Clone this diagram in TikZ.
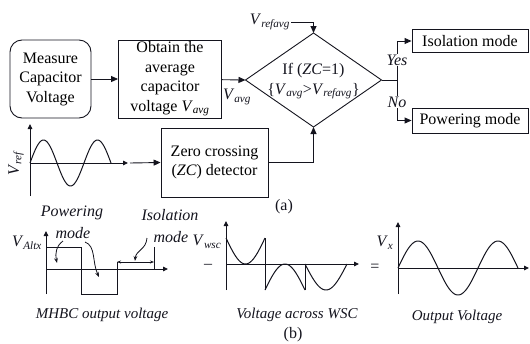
\documentclass[tikz,border=0pt]{standalone}
\usepackage{fontspec}
\setmainfont{Liberation Serif}
\usetikzlibrary{arrows.meta,positioning}
\definecolor{inkc}{RGB}{20,20,30}
\newcommand{\Vs}[1]{\textit{V}\textsubscript{\textit{#1}}}
\tikzset{
  blk/.style={draw=inkc, line width=0.9pt, inner sep=1pt, align=center,
              font=\fontsize{16}{19.5}\selectfont},
  decl/.style={draw=inkc, line width=0.9pt, line join=miter},
  flowarr/.style={-{Triangle[length=7pt,width=6pt]}, inkc, line width=0.9pt},
  axarr/.style={-{Triangle[length=5pt,width=4.5pt]}, inkc, line width=0.9pt},
  crv/.style={inkc, line width=1pt},
  capt/.style={font=\fontsize{15}{17}\selectfont\itshape, text=inkc},
  mlab/.style={font=\fontsize{16}{18}\selectfont\itshape, text=inkc, inner sep=1pt},
  lbl/.style={font=\fontsize{16}{18}\selectfont, text=inkc, inner sep=1pt},
  swarr/.style={-{Stealth[length=5pt]}, inkc, line width=0.8pt},
}
\begin{document}
\begin{tikzpicture}[x=1pt, y=-1pt]
  \useasboundingbox (0,0) rectangle (530,343);
  % (a) control flow
  \node[blk, rounded corners=12pt, minimum width=81pt, minimum height=78pt] (meas) at (50.5,79)
       {Measure\\Capacitor\\Voltage};
  \node[blk, minimum width=103pt, minimum height=78pt] (avg) at (170,79)
       {Obtain the\\average\\capacitor\\voltage \Vs{avg}};
  % decision diamond
  \coordinate (decw) at (245.5,80);
  \coordinate (decn) at (313.5,33);
  \coordinate (dece) at (381.5,80);
  \coordinate (decs) at (313.5,127);
  \draw[decl] (decw) -- (decn) -- (dece) -- (decs) -- cycle;
  \node[lbl, align=center, font=\fontsize{16}{20}\selectfont] (iftxt) at (313.5,81)
       {If (\textit{ZC}=1)\\\{\Vs{avg}>\Vs{refavg}\}};
  \node[blk, minimum width=116pt, minimum height=23pt] (iso) at (470,41) {Isolation mode};
  \node[blk, minimum width=116pt, minimum height=25pt] (pow) at (470,120.5) {Powering mode};
  \node[blk, minimum width=107pt, minimum height=69pt] (zc) at (214.5,162.5)
       {Zero crossing\\(\textit{ZC}) detector};
  \node[lbl] (vrefavg) at (270,22) {\Vs{refavg}};
  \node[lbl] (vavg) at (237,97) {\Vs{avg}};
  \coordinate (split) at (397,80);
  \coordinate (sinout) at (130,163);

  \draw[flowarr] (meas) -- (avg);
  \draw[flowarr] (avg) -- (decw);
  \draw[flowarr] (vrefavg.east) -| (decn);
  \draw[flowarr] (zc.east) -| (decs);
  \draw[inkc, line width=0.9pt] (dece) -- (split);
  \draw[flowarr] (split) |- (iso.west);
  \draw[flowarr] (split) |- (pow.west);
  \node[mlab, fill=white] (yes) at (397,60) {Yes};
  \node[mlab, fill=white] (no) at (397,102) {No};
  \draw[flowarr] (sinout) -- (zc.west);

  % reference sine
  \draw[axarr] (30,196) -- (30,124);
  \draw[axarr] (30,163) -- (128,163);
  \draw[crv] plot[domain=0:540, samples=80, smooth] ({30+\x/540*81},{163-23*sin(\x)});
  \node[lbl, rotate=90] (vref) at (16,163) {\Vs{ref}};
  \node[lbl] (capa) at (284,207) {(a)};

  % (b) waveforms
  \draw[axarr] (46,294) -- (46,231);
  \draw[axarr] (46,269) -- (168,269);
  \draw[crv] (46,247) -- (81,247) -- (81,294) -- (117,294) -- (117,262);
  \draw[crv] (154,247) -- (154,269);
  \draw[{Stealth[length=4pt]}-{Stealth[length=4pt]}, inkc, line width=0.8pt] (117,262) -- (154,262);
  \node[lbl] (valt) at (27,243) {\Vs{Altx}};
  \node[mlab] (pmode) at (72,213) {Powering};
  \node[mlab] (pmode2) at (73,233) {mode};
  \node[mlab] (imode) at (170,215) {Isolation};
  \node[mlab] (imode2) at (171,237) {mode};
  \draw[swarr] (63,241) .. controls (56,246) and (55,254) .. (57,263);
  \draw[swarr] (85,242) .. controls (96,246) and (92,262) .. (99,277);
  \draw[swarr] (147,238) .. controls (146,250) and (136,250) .. (135,261);
  \node[capt] (mhbc) at (102,315) {MHBC output voltage};

  \draw[axarr] (226,290) -- (226,221);
  \draw[axarr] (226,264) -- (359,264);
  \node[lbl] (minus) at (208,266) {--};
  \node[lbl] (vwsc) at (207,242) {\Vs{wsc}};
  \draw[crv] plot[domain=0:180, samples=30, smooth] ({226+\x/180*39},{264-26*(1-sin(\x))});
  \draw[crv] (265,238) -- (265,290);
  \draw[crv] plot[domain=0:180, samples=30, smooth] ({265+\x/180*40},{264+26*(1-sin(\x))});
  \draw[crv] (305,290) -- (305,264);
  \draw[crv] plot[domain=0:180, samples=30, smooth] ({305+\x/180*42},{264+26*sin(\x)});
  \node[capt] (wsc) at (297,315) {Voltage across WSC};

  \node[lbl] (eq) at (375,268) {=};
  \draw[axarr] (398,294) -- (398,222);
  \draw[axarr] (398,268) -- (529,268);
  \draw[crv] plot[domain=0:540, samples=80, smooth] ({398+\x/540*120},{268-27*sin(\x)});
  \node[lbl] (vx) at (385,243) {\Vs{x}};
  \node[capt] (outv) at (457,317) {Output Voltage};
  \node[lbl] (capb) at (293,335) {(b)};
\end{tikzpicture}
\end{document}
